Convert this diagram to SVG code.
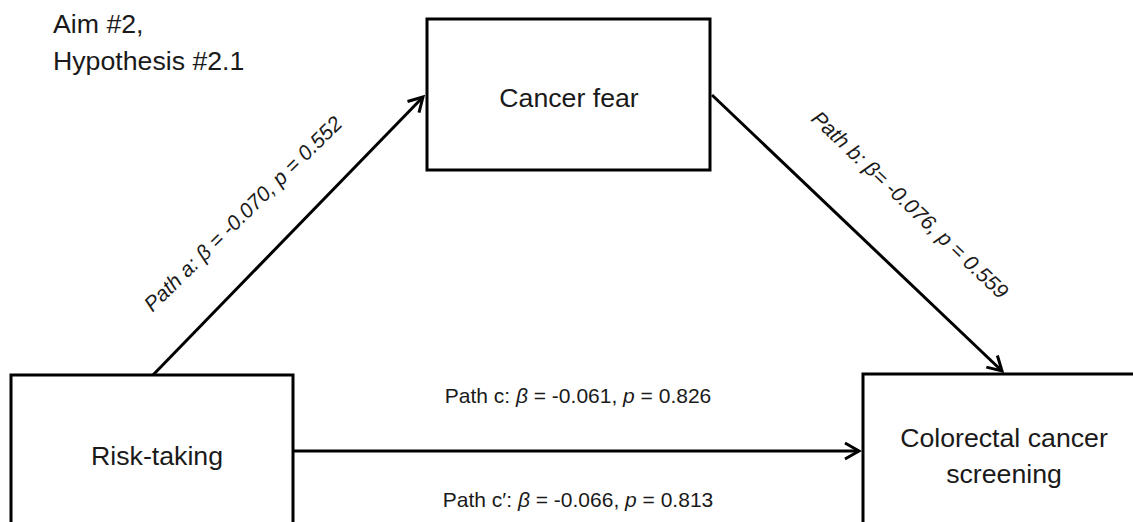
<svg xmlns="http://www.w3.org/2000/svg" width="1133" height="522" viewBox="0 0 1133 522">
  <style>
    .box { fill: #ffffff; stroke: #000000; stroke-width: 3; }
    .node-text { font-family: "Liberation Sans", Arial, sans-serif; font-size: 26.7px; fill: #1a1a1a; text-anchor: middle; }
    .title { font-family: "Liberation Sans", Arial, sans-serif; font-size: 26.7px; fill: #1a1a1a; }
    .label { font-family: "Liberation Sans", Arial, sans-serif; font-size: 21px; fill: #1a1a1a; text-anchor: middle; }
    .conn { stroke: #000000; stroke-width: 3; fill: none; marker-end: url(#arrow); }
  </style>
  <defs>
    <marker id="arrow" markerUnits="userSpaceOnUse" markerWidth="20" markerHeight="20" viewBox="-16 -10 18 20" refX="0" refY="0" orient="auto">
      <path d="M-14,-8 L0,0 L-14,8" fill="none" stroke="#000" stroke-width="3" stroke-linejoin="miter"/>
    </marker>
  </defs>
  <rect width="1133" height="522" fill="#ffffff"/>

  <g id="title">
    <text class="title" x="53" y="33">Aim #2,</text>
    <text class="title" x="53" y="70">Hypothesis #2.1</text>
  </g>

  <g id="node-cancer-fear">
    <rect class="box" x="427" y="19" width="283" height="151"/>
    <text class="node-text" x="569" y="107">Cancer fear</text>
  </g>

  <g id="node-risk-taking">
    <rect class="box" x="11" y="375" width="282" height="170"/>
    <text class="node-text" x="157" y="465">Risk-taking</text>
  </g>

  <g id="node-screening">
    <rect class="box" x="863" y="374" width="290" height="170"/>
    <text class="node-text" x="1004" y="447">Colorectal cancer</text>
    <text class="node-text" x="1004" y="483">screening</text>
  </g>

  <g id="connectors">
    <line class="conn" x1="153" y1="375" x2="423" y2="97"/>
    <line class="conn" x1="712" y1="95" x2="1002" y2="371"/>
    <line class="conn" x1="293" y1="451" x2="859" y2="451"/>
  </g>

  <g id="labels">
    <text class="label" font-style="italic" transform="translate(248,219) rotate(-44.5)">Path a: β = -0.070, p = 0.552</text>
    <text class="label" font-style="italic" transform="translate(905,210) rotate(43.5)">Path b: β= -0.076, p = 0.559</text>
    <text class="label" x="578" y="403">Path c: <tspan font-style="italic">β</tspan> = -0.061, <tspan font-style="italic">p</tspan> = 0.826</text>
    <text class="label" x="578" y="507">Path c′: <tspan font-style="italic">β</tspan> = -0.066, <tspan font-style="italic">p</tspan> = 0.813</text>
  </g>
</svg>
